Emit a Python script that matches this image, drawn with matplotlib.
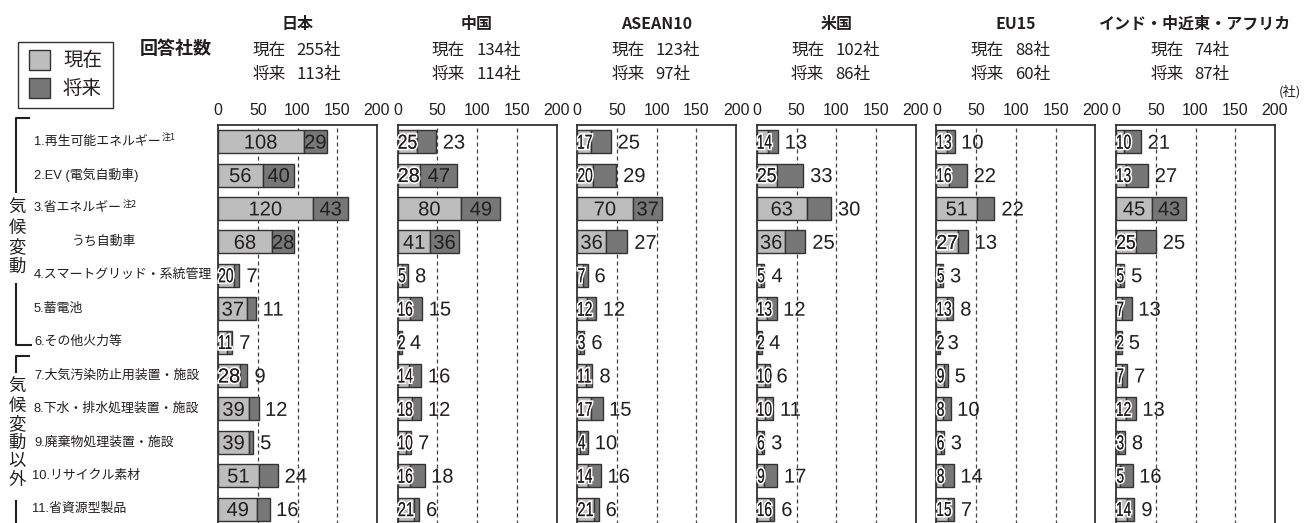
import matplotlib
matplotlib.use("Agg")
import matplotlib.pyplot as plt
from matplotlib import font_manager as fm
from matplotlib.textpath import TextPath
from matplotlib.patches import PathPatch, Rectangle
import matplotlib.transforms as mtransforms
import matplotlib.patheffects as pe

# ---------------- data ----------------
categories = ["1.再生可能エネルギー", "2.EV (電気自動車)", "3.省エネルギー", "うち自動車",
              "4.スマートグリッド・系統管理", "5.蓄電池", "6.その他火力等",
              "7.大気汚染防止用装置・施設", "8.下水・排水処理装置・施設",
              "9.廃棄物処理装置・施設", "10.リサイクル素材", "11.省資源型製品"]
category_notes = ["注1", "", "注2", "", "", "", "", "", "", "", "", ""]
group_names = ["気候変動", "気候変動以外"]
regions = ["日本", "中国", "ASEAN10", "米国", "EU15", "インド・中近東・アフリカ"]
respondents_now = [255, 134, 123, 102, 88, 74]
respondents_future = [113, 114, 97, 86, 60, 87]
legend_labels = ["現在", "将来"]
x_ticks = [0, 50, 100, 150, 200]

japan_now = [108, 56, 120, 68, 20, 37, 11, 28, 39, 39, 51, 49]
japan_future = [29, 40, 43, 28, 7, 11, 7, 9, 12, 5, 24, 16]
china_now = [25, 28, 80, 41, 5, 16, 2, 14, 18, 10, 16, 21]
china_future = [23, 47, 49, 36, 8, 15, 4, 16, 12, 7, 18, 6]
asean_now = [17, 20, 70, 36, 7, 12, 3, 11, 17, 4, 14, 21]
asean_future = [25, 29, 37, 27, 6, 12, 6, 8, 15, 10, 16, 6]
us_now = [14, 25, 63, 36, 5, 13, 2, 10, 10, 6, 9, 16]
us_future = [13, 33, 30, 25, 4, 12, 4, 6, 11, 3, 17, 6]
eu_now = [13, 16, 51, 27, 5, 13, 2, 9, 8, 6, 8, 15]
eu_future = [10, 22, 22, 13, 3, 8, 3, 5, 10, 3, 14, 7]
india_now = [10, 13, 45, 25, 5, 7, 2, 7, 12, 3, 5, 14]
india_future = [21, 27, 43, 25, 5, 13, 5, 7, 13, 8, 16, 9]

now_series = [japan_now, china_now, asean_now, us_now, eu_now, india_now]
future_series = [japan_future, china_future, asean_future, us_future, eu_future, india_future]

# ---------------- style ----------------
W, H, DPI = 1305, 523, 100
K = DPI / 72.0
C_NOW = "#bdbdbd"
C_FUT = "#777777"
C_EDGE = "#333333"
C_TEXT = "#231f20"
# (panel, row) where the future value is written inside its bar
FUT_INSIDE = {(0, 0), (0, 1), (0, 2), (0, 3), (1, 1), (1, 2), (1, 3), (2, 2), (5, 2)}

plt.rcParams["font.family"] = ["Noto Sans CJK JP", "DejaVu Sans"]


def has_font(name):
    try:
        fm.findfont(fm.FontProperties(family=name), fallback_to_default=False)
        return True
    except Exception:
        return False


NUM_FAMILY = "Liberation Sans" if has_font("Liberation Sans") else "DejaVu Sans"
TICK_FAMILY = "Liberation Sans Narrow" if has_font("Liberation Sans Narrow") else NUM_FAMILY
NUM_FP = fm.FontProperties(family=NUM_FAMILY)
LABEL_FAMILY = [NUM_FAMILY, "Noto Sans CJK JP"]

fig = plt.figure(figsize=(W / DPI, H / DPI), dpi=DPI)
fig.patch.set_facecolor("white")

# panel geometry (pixels)
PANEL_X0 = 218.0
PANEL_STEP = 179.6
PANEL_W = 159.0
BOX_TOP = 125.0
ROW_PX = 33.4
YMIN, YMAX = -0.5, 11.6
axes_h = (YMAX - YMIN) * ROW_PX
PXU = PANEL_W / 200.0  # pixels per data unit
NUM_SIZE = 14.5


def draw_number(ax, s, x, y, mode, room_px=None, gap_px=8.0):
    tp = TextPath((0, 0), s, size=NUM_SIZE, prop=NUM_FP)
    bb = tp.get_extents()
    w = (bb.x1 - bb.x0) * K
    sx = 1.0
    effects = None
    if room_px is not None and w > room_px - 3:
        sx = max(0.68, (room_px - 2) / w)
        effects = [pe.withStroke(linewidth=2.4, foreground="white")]
    cy = (bb.y0 + bb.y1) / 2
    if mode == "left":
        tx = -bb.x0
        off = gap_px
    else:
        tx = -(bb.x0 + bb.x1) / 2
        off = 0.0
        if mode == "center0":
            # keep the text inside the panel when the bar is tiny
            min_c = w * sx / 2 + 1.0
            if x * PXU < min_c:
                off = min_c - x * PXU
    tr = (mtransforms.Affine2D().translate(tx, -cy).scale(sx * K, K).translate(off, 0)
          + mtransforms.ScaledTranslation(x, y, ax.transData))
    p = PathPatch(tp, transform=tr, facecolor=C_TEXT, edgecolor="none", lw=0,
                  zorder=6, clip_on=False)
    if effects:
        p.set_path_effects(effects + [pe.Normal()])
    ax.add_patch(p)


rows = list(range(len(categories)))
panel_centers = []
for k in range(len(regions)):
    x0 = PANEL_X0 + PANEL_STEP * k
    panel_centers.append(x0 + PANEL_W / 2)
    ax = fig.add_axes([x0 / W, 1 - (BOX_TOP + axes_h) / H, PANEL_W / W, axes_h / H])
    ax.set_xlim(0, 200)
    ax.set_ylim(YMAX, YMIN)
    now = now_series[k]
    fut = future_series[k]
    for v in x_ticks[1:-1]:
        ax.axvline(v, color="#444444", lw=0.9, ls=(0, (3.2, 2.4)), zorder=1)
    ax.barh(rows, now, height=0.69, color=C_NOW, edgecolor=C_EDGE, lw=1.0, zorder=2)
    ax.barh(rows, fut, left=now, height=0.69, color=C_FUT, edgecolor=C_EDGE, lw=1.0, zorder=2)
    for i in rows:
        draw_number(ax, str(now[i]), now[i] / 2, i, "center0", room_px=now[i] * PXU)
        if (k, i) in FUT_INSIDE:
            draw_number(ax, str(fut[i]), now[i] + fut[i] / 2, i, "center")
        else:
            draw_number(ax, str(fut[i]), now[i] + fut[i], i, "left")
    for sp in ax.spines.values():
        sp.set_color(C_EDGE)
        sp.set_linewidth(1.3)
    ax.xaxis.tick_top()
    ax.set_xticks(x_ticks)
    ax.set_xticklabels([str(t) for t in x_ticks], family=TICK_FAMILY, fontsize=11.5,
                       color=C_TEXT)
    ax.tick_params(axis="x", length=0, pad=5)
    ax.set_yticks([])

# overlay in pixel coordinates for headers and decorations
ov = fig.add_axes([0, 0, 1, 1])
ov.set_xlim(0, W)
ov.set_ylim(H, 0)
ov.axis("off")

for k, xc in enumerate(panel_centers):
    ov.text(xc, 24, regions[k], ha="center", va="center", fontsize=11.5,
            fontweight="bold", color=C_TEXT)
    ov.text(xc - 12, 50, legend_labels[0], ha="right", va="center", fontsize=12, color=C_TEXT)
    ov.text(xc - 1, 50, f"{respondents_now[k]}社", ha="left", va="center", fontsize=12,
            color=C_TEXT)
    ov.text(xc - 12, 74, legend_labels[1], ha="right", va="center", fontsize=12, color=C_TEXT)
    ov.text(xc - 1, 74, f"{respondents_future[k]}社", ha="left", va="center", fontsize=12,
            color=C_TEXT)

ov.text(176, 48, "回答社数", ha="center", va="center", fontsize=13, fontweight="bold",
        color=C_TEXT)
ov.text(1290, 92, "(社)", ha="center", va="center", fontsize=9.5, color=C_TEXT)

# legend
ov.add_patch(Rectangle((18, 42), 95, 66, facecolor="white", edgecolor=C_EDGE, lw=1.0))
ov.add_patch(Rectangle((29, 50), 21, 20, facecolor=C_NOW, edgecolor=C_EDGE, lw=1.0))
ov.add_patch(Rectangle((29, 78), 21, 20, facecolor=C_FUT, edgecolor=C_EDGE, lw=1.0))
ov.text(63, 60, legend_labels[0], ha="left", va="center", fontsize=14, color=C_TEXT)
ov.text(63, 88, legend_labels[1], ha="left", va="center", fontsize=14, color=C_TEXT)

# row labels
renderer = fig.canvas.get_renderer()
for i, lab in enumerate(categories):
    y = BOX_TOP + (i - YMIN) * ROW_PX
    x = 72 if lab.startswith("うち") else (32 if lab[:2].isdigit() else 34)
    t = ov.text(x, y, lab, ha="left", va="center", fontsize=9.3, color=C_TEXT,
                family=LABEL_FAMILY)
    if category_notes[i]:
        bb = t.get_window_extent(renderer)
        ov.text(bb.x1 + 1, y - 4, category_notes[i], ha="left", va="center",
                fontsize=6.5, color=C_TEXT)

# group brackets
LW = 1.5
ov.plot([30, 16, 16], [118, 118, 193], color=C_TEXT, lw=LW, solid_capstyle="butt")
ov.plot([16, 16, 32], [283, 345, 345], color=C_TEXT, lw=LW, solid_capstyle="butt")
ov.plot([30, 16, 16], [356, 356, 373], color=C_TEXT, lw=LW, solid_capstyle="butt")
ov.plot([16, 16], [500, 530], color=C_TEXT, lw=LW, solid_capstyle="butt")
for j, ch in enumerate(group_names[0]):
    ov.text(17, 208 + j * 19.5, ch, ha="center", va="center", fontsize=12.5, color=C_TEXT)
for j, ch in enumerate(group_names[1]):
    ov.text(17, 387 + j * 18.5, ch, ha="center", va="center", fontsize=12.5, color=C_TEXT)

fig.savefig("out.png", dpi=DPI)
